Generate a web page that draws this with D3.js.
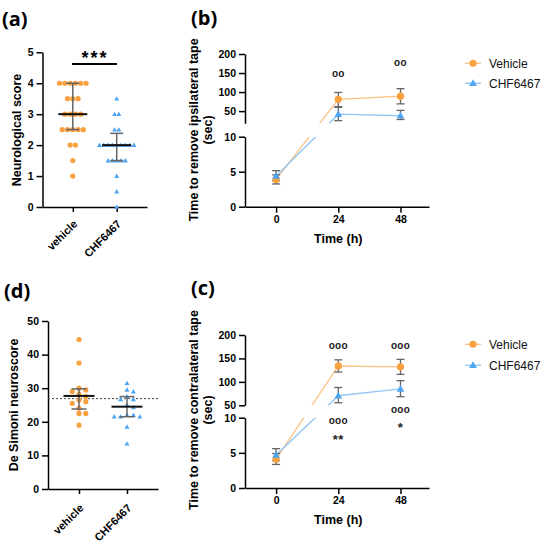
<!DOCTYPE html>
<html>
<head>
<meta charset="utf-8">
<script src="https://cdn.jsdelivr.net/npm/d3@7"></script>
<style>
    body { margin: 0; background: #fff; }
    svg text { font-family: "Liberation Sans", Arial, sans-serif; }
    .axis path, .axis line { stroke: #000; stroke-width: 1.5; }
    .axis text { font-size: 10.5px; font-weight: bold; fill: #000; }
    .title { font-size: 12.5px; font-weight: bold; }
    .panel { font-family: "Open Sans", sans-serif !important; font-size: 20px; font-weight: bold; }
</style>
</head>
<body>
<svg id="chart" width="550" height="551"></svg>
<script>

// ---- Data ----
const groups = ["vehicle", "CHF6467"];

// (a) neurological score
const neuroVehicle = [4, 4, 4, 4, 4, 4, 3.5, 3.5, 3.5, 3, 3, 3, 3, 2.5, 2.5, 2.5, 2.5, 2.5, 2, 2, 1.5, 1];
const neuroChf = [3.5, 3, 3, 2.5, 2.5, 2, 2, 2, 2, 2, 2, 2, 2, 2, 1.5, 1.5, 1.5, 1.5, 1.5, 1, 0.5, 0];
const neuroMedian = [3, 2];
const neuroLow = [2.5, 1.5];
const neuroHigh = [4, 2.38];

// (d) De Simoni neuroscore
const simoniVehicle = [44.5, 37.5, 30, 29.5, 29, 28.2, 27.5, 26.5, 26, 25.5, 24, 22.5, 22.5, 19];
const simoniChf = [31.5, 29.5, 29, 27.5, 26.7, 26.7, 25, 24.3, 22, 22, 21.5, 21.5, 21.5, 18.5, 13.5];
const simoniMean = [27.7, 24.5];
const simoniLow = [23.8, 21.5];
const simoniHigh = [29.8, 27.5];
const simoniRef = 26.9;

// (b) / (c) tape removal
const hours = [0, 24, 48];
const seriesNames = ["Vehicle", "CHF6467"];

const ipsiVehicle = [3.9, 81, 89];
const ipsiVehicleLow = [3.25, 61.5, 69];
const ipsiVehicleHigh = [4.55, 99, 109];
const ipsiChf = [4.4, 42, 38];
const ipsiChfLow = [3.7, 25, 28];
const ipsiChfHigh = [5.15, 60, 52];

const contraVehicle = [4.1, 134, 132];
const contraVehicleLow = [3.35, 121, 116];
const contraVehicleHigh = [4.9, 147, 148];
const contraChf = [4.7, 70.5, 85];
const contraChfLow = [3.9, 55.5, 68.5];
const contraChfHigh = [5.6, 88, 102.5];

// significance marks: hour, value, which axis segment, text
const ipsiMarks = [[24, 147, "high", "oo"], [48, 176, "high", "oo"]];
const contraMarks = [
    [24, 177, "high", "ooo"], [48, 177, "high", "ooo"],
    [24, 9.5, "low", "ooo"], [24, 7.6, "low", "**"],
    [48, 11.1, "low", "ooo"], [48, 9.35, "low", "*"]
];

// ---- Styling ----
const orange = "#f9a03f",
      blue = "#4ea5f0",
      orangeLine = "#fbc48a",
      blueLine = "#93c7f5",
      barGrey = "#666";

const svg = d3.select("#chart");

svg.append("rect").attr("width", 550).attr("height", 551).attr("fill", "#fff");

/** Panel letter */
function panelLabel(text, x, y) {
    svg.append("text")
        .attr("class", "panel")
        .attr("x", x)
        .attr("y", y)
        .style("font-family", "'Open Sans', sans-serif")
        .text(text);
}

/** Rotated y title, one or more lines */
function yTitle(lines, xs, y) {
    lines.forEach((line, i) => {
        svg.append("text")
            .attr("class", "title")
            .attr("transform", `translate(${xs[i]},${y}) rotate(-90)`)
            .attr("text-anchor", "middle")
            .attr("dy", "0.35em")
            .text(line);
    });
}

/** Spread equal values horizontally (GraphPad style scatter) */
function rowLayout(values, spacing) {
    const counts = d3.rollup(values, v => v.length, d => d);
    const seen = new Map();
    return values.map(v => {
        const i = seen.get(v) || 0;
        seen.set(v, i + 1);
        return { v, dx: (i - (counts.get(v) - 1) / 2) * spacing };
    });
}

/** Simple beeswarm for continuous values */
function swarmLayout(values, y, spacing, minDist) {
    const placed = [];
    values.forEach(v => {
        const py = y(v);
        for (let k = 0; k < 40; k++) {
            const dx = (k % 2 ? 1 : -1) * Math.ceil(k / 2) * spacing;
            const ok = placed.every(p => Math.hypot(p.dx - dx, p.py - py) >= minDist);
            if (ok) { placed.push({ v, dx, py }); break; }
        }
    });
    return placed;
}

/** Scatter panel with median/mean lines and error bars */
function scatterPanel(opt) {
    const y = d3.scaleLinear().domain(opt.yDomain).range(opt.yRange);
    const x = d3.scalePoint().domain(groups).range(opt.xRange).padding(opt.padding);
    const base = opt.yRange[0];

    // Axes
    svg.append("g")
        .attr("class", "axis")
        .attr("transform", `translate(${opt.xRange[0]},0)`)
        .call(d3.axisLeft(y).tickValues(opt.ticks).tickFormat(d3.format("d"))
            .tickSize(6).tickSizeOuter(0).tickPadding(3));
    const xa = svg.append("g")
        .attr("class", "axis")
        .attr("transform", `translate(0,${base})`)
        .call(d3.axisBottom(x).tickSize(5).tickSizeOuter(0));
    xa.selectAll("text")
        .attr("text-anchor", "end")
        .attr("transform", d => `translate(2,${opt.labelDrop}) rotate(-45)`)
        .attr("x", 0)
        .attr("y", 0)
        .attr("dy", "0.35em")
        .style("font-size", "11px");

    if (opt.refLine !== undefined) {
        svg.append("line")
            .attr("x1", opt.xRange[0]).attr("x2", opt.xRange[1])
            .attr("y1", y(opt.refLine)).attr("y2", y(opt.refLine))
            .attr("stroke", "#444")
            .attr("stroke-width", 1)
            .attr("stroke-dasharray", "2,2");
    }

    // Points
    const sets = [opt.a, opt.b];
    sets.forEach((vals, gi) => {
        const cx = x(groups[gi]);
        const pts = opt.swarm
            ? swarmLayout(vals, y, gi === 0 ? 3.4 : 3.2, 5)
            : rowLayout(vals, gi === 0 ? 5.3 : 4.3);
        const g = svg.append("g");
        if (gi === 0) {
            g.selectAll("circle")
                .data(pts)
                .enter()
                .append("circle")
                .attr("cx", d => cx + d.dx)
                .attr("cy", d => y(d.v))
                .attr("r", 2.6)
                .attr("fill", orange);
        } else {
            g.selectAll("path")
                .data(pts)
                .enter()
                .append("path")
                .attr("d", d3.symbol().type(d3.symbolTriangle).size(11))
                .attr("transform", d => `translate(${cx + d.dx},${y(d.v) + 0.4})`)
                .attr("fill", blue);
        }
    });

    // Error bars and centre lines
    groups.forEach((grp, gi) => {
        const cx = x(grp);
        const g = svg.append("g");
        g.append("line")
            .attr("x1", cx).attr("x2", cx)
            .attr("y1", y(opt.low[gi])).attr("y2", y(opt.high[gi]))
            .attr("stroke", barGrey).attr("stroke-width", 1.5);
        [opt.low[gi], opt.high[gi]].forEach(v => {
            g.append("line")
                .attr("x1", cx - opt.cap / 2).attr("x2", cx + opt.cap / 2)
                .attr("y1", y(v)).attr("y2", y(v))
                .attr("stroke", barGrey).attr("stroke-width", 1.5);
        });
        g.append("line")
            .attr("x1", cx - opt.centreWidth / 2).attr("x2", cx + opt.centreWidth / 2)
            .attr("y1", y(opt.centre[gi])).attr("y2", y(opt.centre[gi]))
            .attr("stroke", "#111").attr("stroke-width", 2);
    });

    return { x, y };
}

/** Line panel with broken y axis */
function linePanel(opt) {
    const x = d3.scaleLinear().domain([-12, 59]).range(opt.xRange);
    const yLow = d3.scaleLinear().domain([0, 10]).range(opt.lowRange);
    const yHigh = d3.scaleLinear().domain(opt.highDomain).range(opt.highRange);
    const yOf = v => v >= opt.highDomain[0] ? yHigh(v) : yLow(v);
    const base = opt.lowRange[0];

    // Axes
    svg.append("g")
        .attr("class", "axis")
        .attr("transform", `translate(${opt.xRange[0]},0)`)
        .call(d3.axisLeft(yLow).tickValues([0, 5, 10]).tickFormat(d3.format("d"))
            .tickSize(6).tickSizeOuter(0).tickPadding(3));
    svg.append("g")
        .attr("class", "axis")
        .attr("transform", `translate(${opt.xRange[0]},0)`)
        .call(d3.axisLeft(yHigh).tickValues([50, 100, 150, 200]).tickFormat(d3.format("d"))
            .tickSize(6).tickSizeOuter(0).tickPadding(3));
    svg.append("g")
        .attr("class", "axis")
        .attr("transform", `translate(0,${base})`)
        .call(d3.axisBottom(x).tickValues(hours).tickSize(6).tickSizeOuter(0).tickPadding(3));

    svg.append("text")
        .attr("class", "title")
        .attr("x", x(24))
        .attr("y", base + 36)
        .attr("text-anchor", "middle")
        .text("Time (h)");

    // Clip away the axis break
    const clipId = opt.id + "_clip";
    const clip = svg.append("clipPath").attr("id", clipId);
    clip.append("rect")
        .attr("x", opt.xRange[0]).attr("width", opt.xRange[1] - opt.xRange[0])
        .attr("y", opt.highRange[1] - 20).attr("height", opt.highRange[0] - opt.highRange[1] + 20);
    clip.append("rect")
        .attr("x", opt.xRange[0]).attr("width", opt.xRange[1] - opt.xRange[0])
        .attr("y", opt.lowRange[1]).attr("height", opt.lowRange[0] - opt.lowRange[1]);

    const series = [
        { mean: opt.vehicle, low: opt.vehicleLow, high: opt.vehicleHigh, line: orangeLine, fill: orange, shape: d3.symbolCircle },
        { mean: opt.chf, low: opt.chfLow, high: opt.chfHigh, line: blueLine, fill: blue, shape: d3.symbolTriangle }
    ];

    const line = d3.line()
        .x((d, i) => x(hours[i]))
        .y(d => yOf(d));

    series.forEach(s => {
        svg.append("path")
            .attr("d", line(s.mean))
            .attr("fill", "none")
            .attr("stroke", s.line)
            .attr("stroke-width", 1.4)
            .attr("clip-path", `url(#${clipId})`);
    });

    series.forEach(s => {
        const g = svg.append("g");
        hours.forEach((h, i) => {
            const cx = x(h);
            g.append("line")
                .attr("x1", cx).attr("x2", cx)
                .attr("y1", yOf(s.low[i])).attr("y2", yOf(s.high[i]))
                .attr("stroke", barGrey).attr("stroke-width", 1.3);
            [s.low[i], s.high[i]].forEach(v => {
                g.append("line")
                    .attr("x1", cx - 4).attr("x2", cx + 4)
                    .attr("y1", yOf(v)).attr("y2", yOf(v))
                    .attr("stroke", barGrey).attr("stroke-width", 1.3);
            });
        });
    });

    series.forEach(s => {
        svg.append("g")
            .selectAll("path")
            .data(s.mean)
            .enter()
            .append("path")
            .attr("d", d3.symbol().type(s.shape).size(s.shape === d3.symbolCircle ? 42 : 26))
            .attr("transform", (d, i) => `translate(${x(hours[i])},${yOf(d) + (s.shape === d3.symbolCircle ? 0 : 0.5)})`)
            .attr("fill", s.fill);
    });

    // Significance marks
    svg.append("g")
        .selectAll("text")
        .data(opt.marks)
        .enter()
        .append("text")
        .attr("x", d => x(d[0]))
        .attr("y", d => d[2] === "high" ? yHigh(d[1]) : yLow(d[1]))
        .attr("dy", d => d[3].includes("*") ? "0.75em" : "0.3em")
        .attr("text-anchor", "middle")
        .style("font-size", d => d[3].includes("*") ? "13px" : "10px")
        .style("font-weight", "bold")
        .style("letter-spacing", d => d[3].includes("*") ? "0.5px" : "0.3px")
        .attr("fill", "#222")
        .text(d => d[3]);

    // Legend
    const lg = svg.append("g");
    series.forEach((s, i) => {
        const ly = opt.legendY[i];
        lg.append("line")
            .attr("x1", 465).attr("x2", 481)
            .attr("y1", ly).attr("y2", ly)
            .attr("stroke", s.line).attr("stroke-width", 1.4);
        lg.append("path")
            .attr("d", d3.symbol().type(s.shape).size(s.shape === d3.symbolCircle ? 40 : 26))
            .attr("transform", `translate(473,${ly + (s.shape === d3.symbolCircle ? 0 : 0.5)})`)
            .attr("fill", s.fill);
        lg.append("text")
            .attr("x", 489)
            .attr("y", ly)
            .attr("dy", "0.35em")
            .style("font-size", "12px")
            .attr("fill", "#111")
            .text(seriesNames[i]);
    });
}

// ---- (a) ----
panelLabel("(a)", 2, 26);
scatterPanel({
    yDomain: [0, 5], yRange: [207, 52.3], ticks: [0, 1, 2, 3, 4, 5],
    xRange: [42.5, 147], padding: 0.69, labelDrop: 15,
    a: neuroVehicle, b: neuroChf,
    centre: neuroMedian, low: neuroLow, high: neuroHigh,
    cap: 13, centreWidth: 29, swarm: false
});
yTitle(["Neurological score"], [17], 130);
svg.append("line")
    .attr("x1", 72).attr("x2", 117)
    .attr("y1", 64).attr("y2", 64)
    .attr("stroke", "#000").attr("stroke-width", 2.2);
svg.append("text")
    .attr("x", 95).attr("y", 63.5)
    .attr("text-anchor", "middle")
    .style("font-size", "18px").style("font-weight", "bold")
    .style("letter-spacing", "2px")
    .text("***");

// ---- (d) ----
panelLabel("(d)", 4, 298);
scatterPanel({
    yDomain: [0, 50], yRange: [489, 321], ticks: [0, 10, 20, 30, 40, 50],
    xRange: [48, 158], padding: 0.646, labelDrop: 17,
    a: simoniVehicle, b: simoniChf,
    centre: simoniMean, low: simoniLow, high: simoniHigh,
    cap: 15, centreWidth: 31, swarm: true, refLine: simoniRef
});
yTitle(["De Simoni neuroscore"], [14], 405);

// ---- (b) ----
panelLabel("(b)", 191, 25);
linePanel({
    id: "ipsi", xRange: [245, 429],
    lowRange: [206.7, 136.7], highDomain: [18, 200], highRange: [123.3, 54],
    vehicle: ipsiVehicle, vehicleLow: ipsiVehicleLow, vehicleHigh: ipsiVehicleHigh,
    chf: ipsiChf, chfLow: ipsiChfLow, chfHigh: ipsiChfHigh,
    marks: ipsiMarks, legendY: [63.3, 83.3]
});
yTitle(["Time to remove ipsilateral tape", "(sec)"], [194, 208], 130);

// ---- (c) ----
panelLabel("(c)", 191, 295);
linePanel({
    id: "contra", xRange: [245, 429],
    lowRange: [488, 417.7], highDomain: [50, 200], highRange: [405.3, 335],
    vehicle: contraVehicle, vehicleLow: contraVehicleLow, vehicleHigh: contraVehicleHigh,
    chf: contraChf, chfLow: contraChfLow, chfHigh: contraChfHigh,
    marks: contraMarks, legendY: [344.3, 365.3]
});
yTitle(["Time to remove contralateral tape", "(sec)"], [194, 208], 410);

</script>
</body>
</html>
